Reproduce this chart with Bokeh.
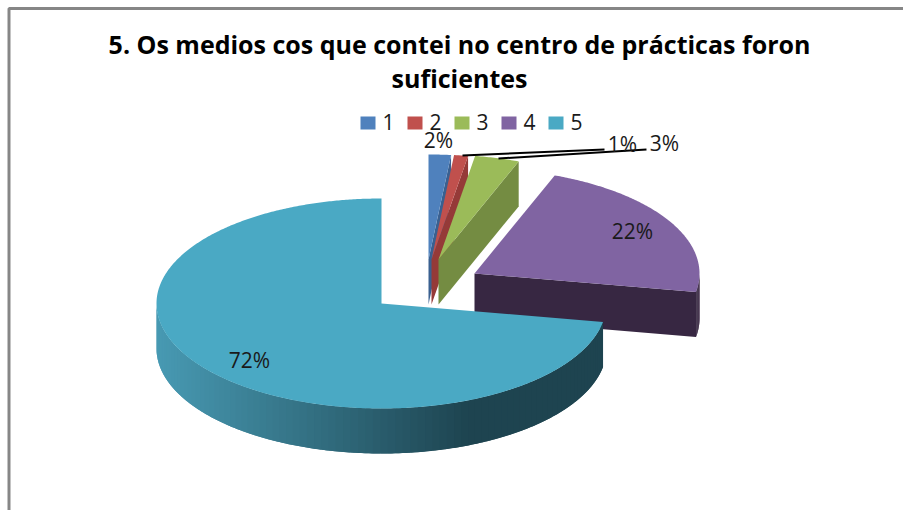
import numpy as np
from bokeh.plotting import figure
from bokeh.models import Range1d
from bokeh.core.properties import value
from bokeh.embed import file_html
from bokeh.resources import INLINE

categories = ["1", "2", "3", "4", "5"]
shares = [1.6, 1.0, 3.2, 22.0, 72.2]
top_colors = ["#4F81BD", "#C0504D", "#9BBB59", "#8064A2", "#4AA9C4"]
side_colors = ["#3A6090", "#953A38", "#748C42", "#372742", "#1E4450"]
title_lines = ["5. Os medios cos que contei no centro de prácticas foron", "suficientes"]

RX, RY, DEPTH = 225, 105, 45
apex = {"1": (428, 259), "2": (431, 259), "3": (438, 259), "4": (474, 273), "5": (381, 303)}
label_pos = {"1": (438, 139.5), "2": (622, 143.5), "3": (664, 142.5), "4": (632, 230.5), "5": (249, 359.5)}

p = figure(width=903, height=510, output_backend="svg", toolbar_location=None,
           x_range=Range1d(0, 903), y_range=Range1d(510, 0),
           min_border=0, outline_line_color=None, background_fill_color="white")
p.axis.visible = False
p.grid.visible = False

# frame
p.line([8.5, 8.5, 903], [510, 8, 8], line_color="#868686", line_width=3)

def ellipse(cx, cy, a, dy=0):
    return cx + RX * np.sin(a), cy - RY * np.cos(a) + dy

fr = np.cumsum([0] + shares) / sum(shares) * 2 * np.pi
for i, cat in enumerate(categories):
    cx, cy = apex[cat]
    a0, a1 = fr[i], fr[i + 1]
    a = np.linspace(a0, a1, max(6, int((a1 - a0) * 120)))
    tx, ty = ellipse(cx, cy, a)

    if cat != "5":
        # radial cut face at the clockwise end of the slice
        ex, ey = tx[-1], ty[-1]
        p.patch([cx, ex, ex, cx], [cy, ey, ey + DEPTH, cy + DEPTH],
                fill_color=side_colors[i], line_color=None)
    # outer wall, visible on the lower half of the ellipse
    lo, hi = max(a0, np.pi / 2), min(a1, 3 * np.pi / 2)
    if hi > lo:
        edges = np.linspace(lo, hi, 90)
        step = edges[1] - edges[0]
        for n, e0 in enumerate(edges[:-1]):
            # each strip overlaps the next one so no seams show through
            seg = np.linspace(e0 - (step if n else 0), e0 + step, 6)
            sx, sy = ellipse(cx, cy, seg)
            if cat == "5":
                t = min(1.0, max(0.0, (sx.mean() - (cx - RX)) / 310))
                c0, c1 = np.array([0x48, 0x9A, 0xB3]), np.array([0x1E, 0x44, 0x50])
                rgb = c0 + (c1 - c0) * t
                col = "#%02X%02X%02X" % tuple(int(v) for v in rgb)
            else:
                col = side_colors[i]
            p.patch(list(sx) + list(sx[::-1]), list(sy) + list(sy[::-1] + DEPTH),
                    fill_color=col, line_color=None)
    p.patch([cx, *tx], [cy, *ty], fill_color=top_colors[i], line_color=None)

# leader lines
p.line([462, 604], [155, 149], line_color="black", line_width=2)
p.line([498, 646], [158, 149], line_color="black", line_width=2)

# data labels
for cat, v in zip(categories, shares):
    x, y = label_pos[cat]
    p.text([x], [y], text=[f"{round(v)}%"], text_font=value("Open Sans"), text_font_size="21px",
           text_align="center", text_baseline="middle", text_color="#1A1A1A")

# legend
for i, cat in enumerate(categories):
    x0 = 360 + i * 47
    p.quad(left=[x0], right=[x0 + 15], top=[116], bottom=[129], fill_color=top_colors[i], line_color=None)
    p.text([x0 + 28], [121.5], text=[cat], text_font=value("Open Sans"), text_font_size="21px",
           text_align="center", text_baseline="middle", text_color="#1A1A1A")

# title
p.text([459], [43], text=[title_lines[0]], text_font=value("Open Sans"), text_font_size="25px",
       text_font_style="bold", text_align="center", text_baseline="middle", text_color="black")
p.text([459], [77], text=[title_lines[1]], text_font=value("Open Sans"), text_font_size="25px",
       text_font_style="bold", text_align="center", text_baseline="middle", text_color="black")

open("out.html", "w").write(file_html(p, INLINE))
